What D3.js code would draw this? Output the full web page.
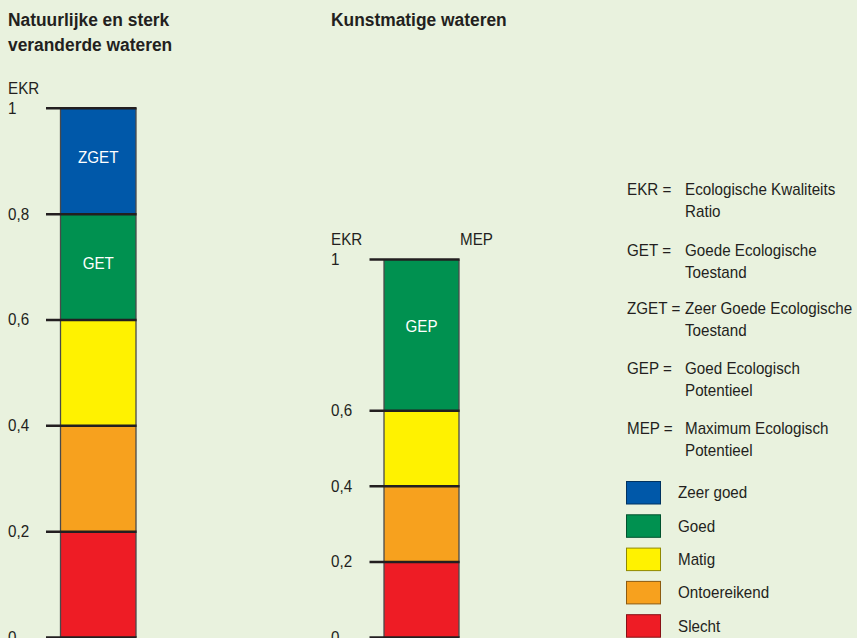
<!DOCTYPE html>
<html><head><meta charset="utf-8">
<script src="https://cdn.jsdelivr.net/npm/d3@7"></script>
<style>
html,body{margin:0;padding:0;background:#e9f2de;}
svg{display:block;font-family:"Liberation Sans",Arial,sans-serif;}
</style></head><body>
<svg id="c" width="857" height="638"></svg>
<script>
// Data
const classNames = ["Slecht","Ontoereikend","Matig","Goed","Zeer goed"];
const classColors = ["#ee1c25","#f7a11e","#fff200","#009150","#0058a9"];
const naturalBounds = [0,0.2,0.4,0.6,0.8,1];
const naturalBandLabels = ["","","","GET","ZGET"];
const naturalTicks = [0,0.2,0.4,0.6,0.8,1];
const naturalTickLabels = ["0","0,2","0,4","0,6","0,8","1"];
const artificialBounds = [0,0.2,0.4,0.6,1];
const artificialBandLabels = ["","","","GEP"];
const artificialTicks = [0,0.2,0.4,0.6,1];
const artificialTickLabels = ["0","0,2","0,4","0,6","1"];
const defTerms = ["EKR =","GET =","ZGET =","GEP =","MEP ="];
const defTexts = [["Ecologische Kwaliteits","Ratio"],["Goede Ecologische","Toestand"],["Zeer Goede Ecologische","Toestand"],["Goed Ecologisch","Potentieel"],["Maximum Ecologisch","Potentieel"]];

const svg = d3.select("#c");
const ink = "#231f20";
const FS = 16, SX = 0.95;

function txt(parent, x, y, s, o = {}){
  const sx = o.sx || SX;
  return parent.append("text")
    .attr("transform", `translate(${x},${y}) scale(${sx},1)`)
    .attr("font-size", o.size || FS)
    .attr("font-weight", o.bold ? "bold" : null)
    .attr("text-anchor", o.anchor || "start")
    .attr("fill", o.fill || ink)
    .text(s);
}

function panel(opt){
  const g = svg.append("g");
  const y = d3.scaleLinear().domain([0,1]).range([opt.y0,opt.y1]);
  const bands = d3.range(opt.bounds.length-1).map(i=>({lo:opt.bounds[i],hi:opt.bounds[i+1],color:classColors[i],label:opt.labels[i]}));
  g.selectAll("rect.band").data(bands).enter().append("rect")
    .attr("x",opt.bx).attr("width",opt.bw)
    .attr("y",d=>y(d.hi)).attr("height",d=>y(d.lo)-y(d.hi))
    .attr("fill",d=>d.color);
  [opt.bx, opt.bx+opt.bw].forEach(xx=>{
    g.append("line").attr("x1",xx).attr("x2",xx).attr("y1",y(1)).attr("y2",y(0))
      .attr("stroke","#4a4a4a").attr("stroke-width",1.3);
  });
  g.selectAll("line.tick").data(opt.ticks).enter().append("line")
    .attr("x1",opt.tx).attr("x2",opt.bx+opt.bw+0.6)
    .attr("y1",d=>y(d)).attr("y2",d=>y(d))
    .attr("stroke",ink).attr("stroke-width",2.5);
  opt.ticks.forEach((t,i)=>txt(g, opt.lx, y(t)+5.5, opt.tickLabels[i]));
  bands.filter(b=>b.label).forEach(b=>{
    txt(g, opt.bx+opt.bw/2, (y(b.lo)+y(b.hi))/2+opt.labOff, b.label, {anchor:"middle", fill:"#fff"});
  });
  txt(g, opt.lx, y(1)-14.3, "EKR");
  return {g,y};
}

// Titles
txt(svg, 8, 26, "Natuurlijke en sterk", {bold:true, size:18.5, sx:0.94});
txt(svg, 8, 51, "veranderde wateren", {bold:true, size:18.5, sx:0.94});
txt(svg, 331, 26, "Kunstmatige wateren", {bold:true, size:18.5, sx:0.94});

panel({y0:637.5,y1:108.3,bx:60.5,bw:75.5,tx:46,lx:8,bounds:naturalBounds,labels:naturalBandLabels,ticks:naturalTicks,tickLabels:naturalTickLabels,labOff:2});
const p2 = panel({y0:637.5,y1:259.5,bx:384,bw:75,tx:369.5,lx:331,bounds:artificialBounds,labels:artificialBandLabels,ticks:artificialTicks,tickLabels:artificialTickLabels,labOff:-3});
txt(svg, 460, p2.y(1)-14.3, "MEP");

// Definitions
const defTop = [195,256,314,374,434];
const dg = svg.append("g");
defTerms.forEach((t,i)=>{
  txt(dg, 627, defTop[i], t);
  defTexts[i].forEach((s,j)=> txt(dg, 685, defTop[i]+j*22, s));
});

// Legend
const legOrder = [4,3,2,1,0];
const lg = svg.append("g");
legOrder.forEach((k,i)=>{
  const yy = 481.5 + i*33.3;
  lg.append("rect").attr("x",626.5).attr("y",yy).attr("width",34).attr("height",22.5)
    .attr("fill",classColors[k]).attr("stroke",d3.color(classColors[k]).darker(1.6)).attr("stroke-width",1);
  txt(lg, 678, yy+16.8, classNames[k]);
});
</script></body></html>
